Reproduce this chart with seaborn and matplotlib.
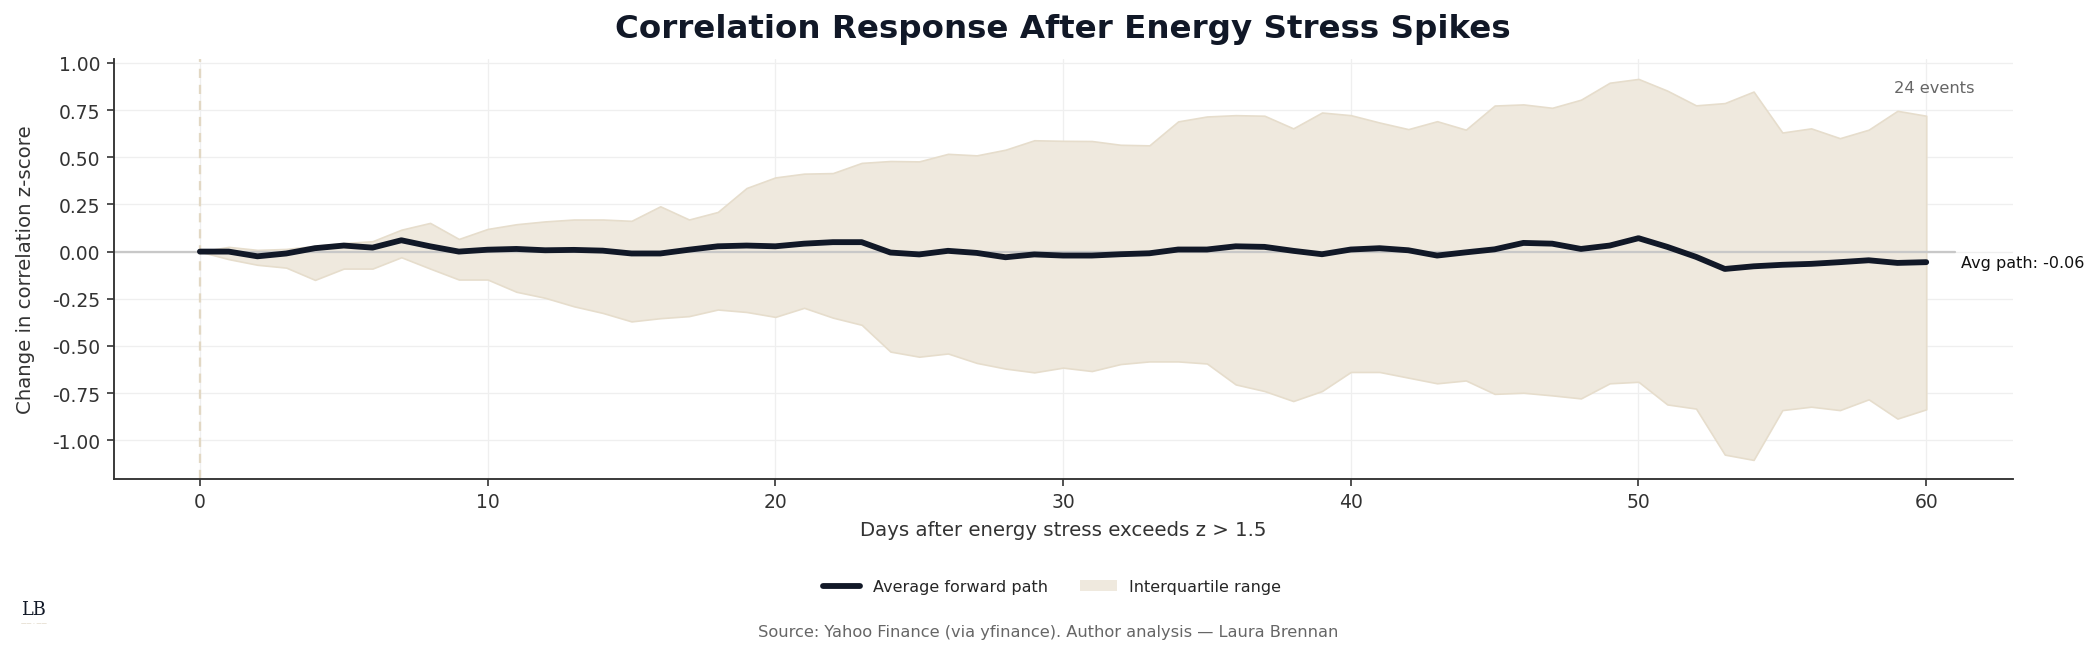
import numpy as np
import pandas as pd
import matplotlib
matplotlib.use("Agg")
import matplotlib.pyplot as plt
import seaborn as sns
from matplotlib.patches import Patch
from matplotlib.lines import Line2D

# Event-study path: days 0..60 after the stress spike
days = list(range(61))

avg_path = [0.000, 0.000, -0.025, -0.010, 0.018, 0.032, 0.021, 0.060, 0.028, 0.000,
            0.010, 0.014, 0.007, 0.009, 0.005, -0.010, -0.010, 0.010, 0.028, 0.032,
            0.028, 0.042, 0.050, 0.050, -0.005, -0.015, 0.004, -0.007, -0.030, -0.015,
            -0.021, -0.021, -0.014, -0.009, 0.011, 0.011, 0.028, 0.025, 0.004, -0.014,
            0.011, 0.018, 0.007, -0.021, -0.004, 0.012, 0.046, 0.042, 0.014, 0.032,
            0.071, 0.025, -0.028, -0.092, -0.078, -0.070, -0.065, -0.056, -0.046, -0.060,
            -0.056]

iqr_upper = [0.000, 0.025, 0.009, 0.014, 0.030, 0.045, 0.055, 0.116, 0.152, 0.067,
             0.120, 0.145, 0.160, 0.170, 0.170, 0.163, 0.240, 0.170, 0.210, 0.337,
             0.393, 0.413, 0.416, 0.470, 0.480, 0.478, 0.518, 0.510, 0.540, 0.590,
             0.587, 0.586, 0.566, 0.563, 0.690, 0.716, 0.723, 0.720, 0.653, 0.737,
             0.723, 0.684, 0.649, 0.691, 0.646, 0.774, 0.780, 0.762, 0.805, 0.895,
             0.915, 0.853, 0.775, 0.787, 0.848, 0.631, 0.653, 0.601, 0.646, 0.746,
             0.720]

iqr_lower = [0.000, -0.040, -0.070, -0.085, -0.150, -0.090, -0.090, -0.030, -0.090, -0.148,
             -0.148, -0.213, -0.245, -0.290, -0.325, -0.370, -0.353, -0.342, -0.307, -0.320,
             -0.346, -0.298, -0.350, -0.388, -0.530, -0.557, -0.540, -0.590, -0.620, -0.640,
             -0.615, -0.633, -0.596, -0.582, -0.582, -0.593, -0.704, -0.739, -0.792, -0.739,
             -0.638, -0.638, -0.668, -0.698, -0.683, -0.754, -0.748, -0.762, -0.778, -0.698,
             -0.690, -0.810, -0.832, -1.076, -1.104, -0.840, -0.822, -0.840, -0.783, -0.885,
             -0.836]

n_events = 24

df = pd.DataFrame({"day": days, "avg": avg_path, "lo": iqr_lower, "hi": iqr_upper})

sns.set_style("white")
plt.rcParams["font.family"] = ["DejaVu Sans"]

ink = "#111827"
band = "#efe9de"

fig = plt.figure(figsize=(13.973, 4.353), dpi=150)
ax = fig.add_axes([0.0542, 0.265, 0.906, 0.643])

ax.grid(True, color="#efefef", linewidth=0.6)
ax.set_axisbelow(True)

# IQR band + average path
ax.fill_between(df["day"], df["lo"], df["hi"], facecolor=band, edgecolor="#e6ddcc",
                linewidth=0.8, zorder=1)
ax.plot([-3, 61], [0, 0], color="#c8c8c8", linewidth=1.1, zorder=2)
ax.axvline(0, color="#e2d8c4", linewidth=1.1, linestyle=(0, (4, 3)), zorder=2)
sns.lineplot(data=df, x="day", y="avg", color=ink, linewidth=2.8, ax=ax, zorder=3)

ax.set_xlim(-3, 63)
ax.set_ylim(-1.205, 1.02)
ax.set_yticks(np.arange(-1.0, 1.01, 0.25))
ax.set_xticks(range(0, 61, 10))
ax.yaxis.set_major_formatter(matplotlib.ticker.FormatStrFormatter("%.2f"))

ax.set_xlabel("Days after energy stress exceeds z > 1.5", fontsize=9.5, color="#333333", labelpad=4)
ax.set_ylabel("Change in correlation z-score", fontsize=9.5, color="#333333", labelpad=8)
ax.tick_params(axis="both", labelsize=9, colors="#333333", length=3.5, width=0.8,
               direction="out", bottom=True, left=True, pad=3)

sns.despine(ax=ax)
for side in ["left", "bottom"]:
    ax.spines[side].set_color("#333333")
    ax.spines[side].set_linewidth(0.9)

# annotations
ax.text(0.98, 0.933, f"{n_events} events", transform=ax.transAxes, fontsize=7.8,
        color="#666666", ha="right", va="center")
ax.text(61.2, avg_path[-1], f"Avg path: {avg_path[-1]:.2f}", fontsize=7.7, color="#111111",
        ha="left", va="center")

fig.text(0.507, 0.955, "Correlation Response After Energy Stress Spikes", fontsize=15.6,
         fontweight="bold", color=ink, ha="center", va="center")

handles = [Line2D([0], [0], color=ink, linewidth=2.8),
           Patch(facecolor=band, edgecolor="none")]
fig.legend(handles, ["Average forward path", "Interquartile range"], loc="center",
           bbox_to_anchor=(0.502, 0.1), ncol=2, frameon=False, fontsize=7.7,
           handlelength=2.3, columnspacing=2.0)

fig.text(0.5, 0.032, "Source: Yahoo Finance (via yfinance). Author analysis — Laura Brennan",
         fontsize=7.8, color="#666666", ha="center", va="center")

fig.text(0.016, 0.066, "LB", fontsize=8.5, family="DejaVu Serif", color=ink, ha="center", va="center")
fig.text(0.016, 0.045, "—— · ——", fontsize=2.5, color="#c9b99a", ha="center", va="center")

fig.savefig("out.png", dpi=150, facecolor="white")
